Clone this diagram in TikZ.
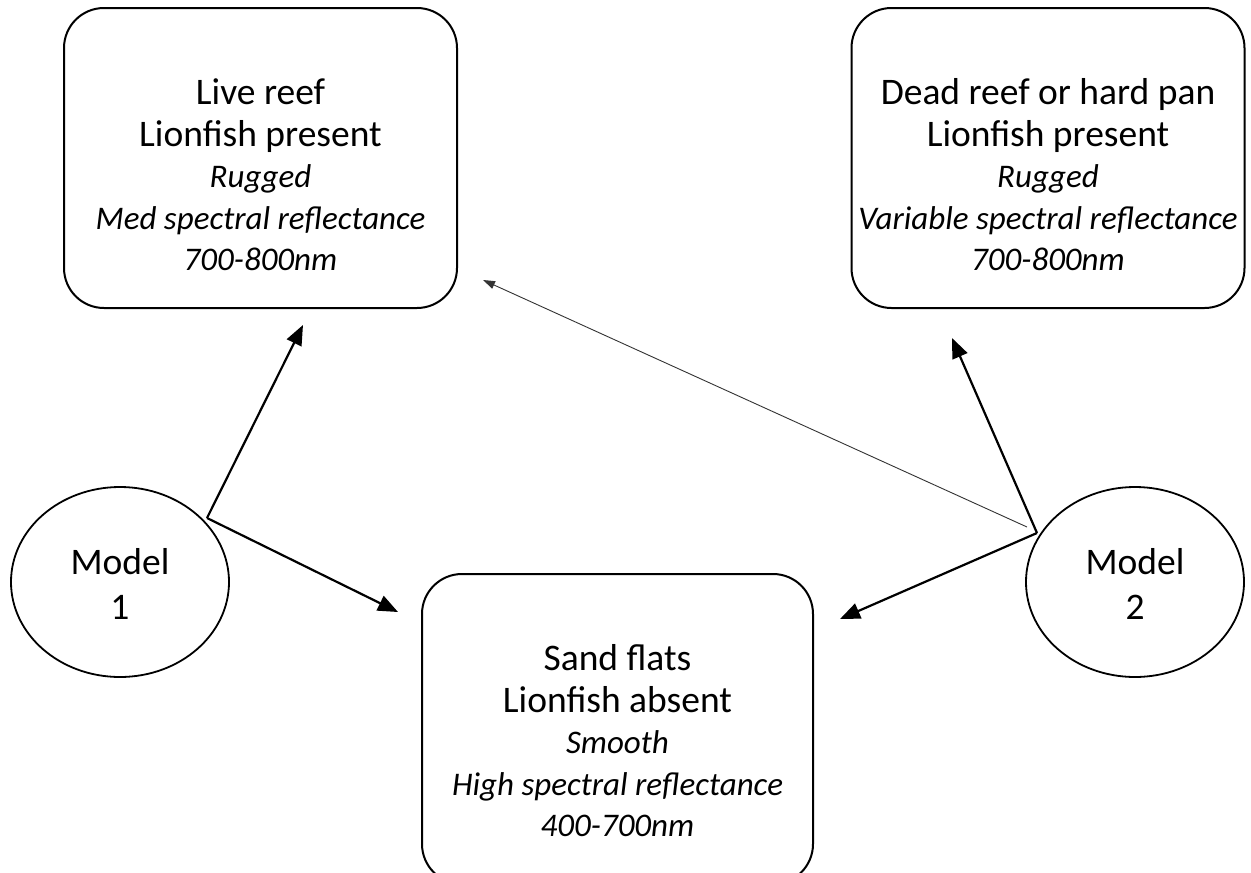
\documentclass[tikz,border=0pt]{standalone}
\usepackage{fontspec}
\setmainfont{Carlito}
\usetikzlibrary{arrows.meta,shapes.geometric}
\newcommand{\upf}{\fontsize{37.5pt}{41.5pt}\selectfont}
\newcommand{\itf}{\fontsize{33pt}{41.5pt}\selectfont\itshape}
\begin{document}
\begin{tikzpicture}[x=1pt,y=-1pt,
  boxshape/.style={draw, line width=2pt, rounded corners=40pt, minimum width=393pt, minimum height=300pt, inner sep=0pt},
  modelshape/.style={draw, line width=1.8pt, ellipse, minimum width=218pt, minimum height=190pt, inner sep=0pt},
  txt/.style={align=center, inner sep=0pt, font=\fontsize{37.5pt}{41.5pt}\selectfont},
  mtxt/.style={align=center, inner sep=0pt, font=\fontsize{37.5pt}{45pt}\selectfont},
  thick arrow/.style={line width=2.2pt, -{Triangle[length=20pt,width=16pt]}},
  thin arrow/.style={line width=0.9pt, draw=black!80, -{Triangle[length=12pt,width=8pt]}}]
\useasboundingbox (0,0) rectangle (1251,873);
\clip (0,0) rectangle (1251,873);
\fill[white] (0,0) rectangle (1251,873);
% boxes
\node[boxshape] (live) at (260.5,158) {};
\node[boxshape] (dead) at (1048,158) {};
\node[boxshape, minimum width=391pt, minimum height=310pt] (sand) at (617.5,729) {};
\node[txt] (livetext) at (260.5,175) {\upf Live reef\\ \upf Lionfish present\\ \itf Rugged\\ \itf Med spectral reflectance\\ \itf 700-800nm};
\node[txt] (deadtext) at (1048,175) {\upf Dead reef or hard pan\\ \upf Lionfish present\\ \itf Rugged\\ \itf Variable spectral reflectance\\ \itf 700-800nm};
\node[txt] (sandtext) at (617.5,741) {\upf Sand flats\\ \upf Lionfish absent\\ \itf Smooth\\ \itf High spectral reflectance\\ \itf 400-700nm};
% models
\node[modelshape] (m1) at (120,582) {};
\node[modelshape] (m2) at (1135,582) {};
\node[mtxt] (m1text) at (120,584) {Model\\ 1};
\node[mtxt] (m2text) at (1135,584) {Model\\ 2};
% connector points
\coordinate (s1) at (207,518);
\coordinate (s2) at (1037,533);
\coordinate (s2b) at (1027,527);
\coordinate (e1) at (303,325);
\coordinate (e2) at (398,612);
\coordinate (e3) at (952,338);
\coordinate (e4) at (840,619);
\coordinate (e5) at (483,280);
\draw[thick arrow] (s1) -- (e1);
\draw[thick arrow] (s1) -- (e2);
\draw[thick arrow] (s2) -- (e3);
\draw[thick arrow] (s2) -- (e4);
\draw[thin arrow] (s2b) -- (e5);
\end{tikzpicture}
\end{document}
